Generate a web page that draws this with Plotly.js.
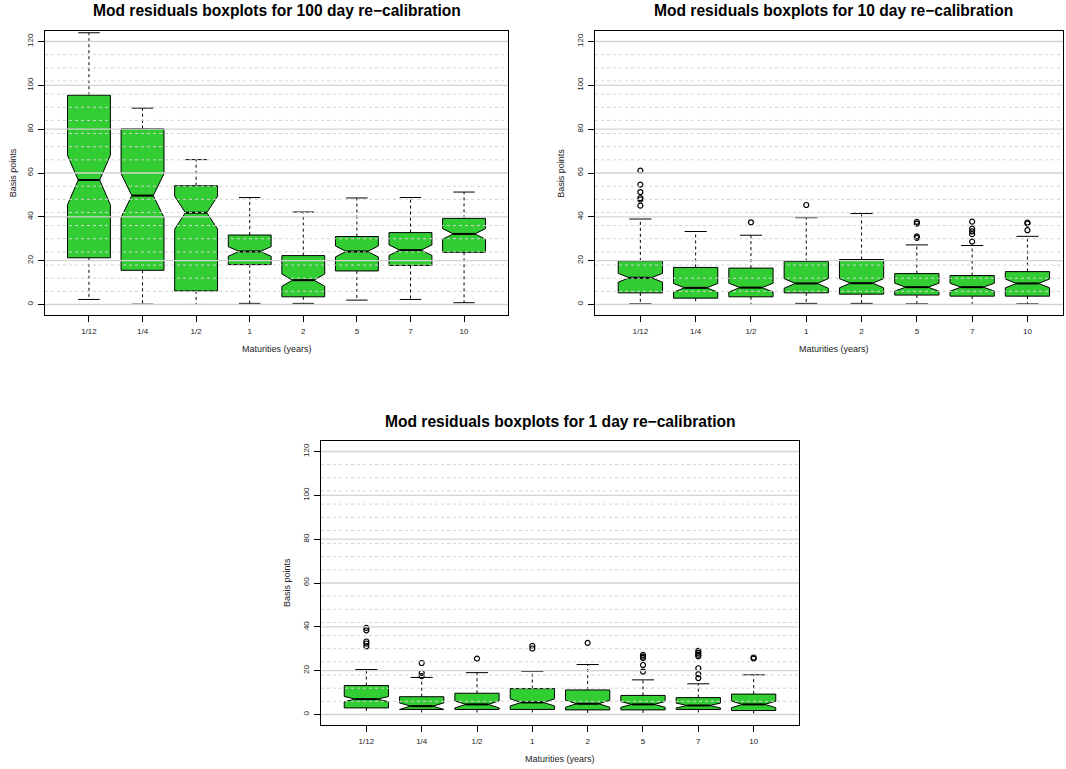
<!DOCTYPE html>
<html>
<head>
<meta charset="utf-8">
<script src="https://cdn.plot.ly/plotly-3.0.1.min.js"></script>
<style>
html,body{margin:0;padding:0;background:#fff;overflow:hidden;}
#chart{width:1066px;height:769px;}
</style>
</head>
<body>
<div id="chart"></div>
<script>
// ---------------- data ----------------
const maturities = ["1/12", "1/4", "1/2", "1", "2", "5", "7", "10"];

// 100 day re-calibration
const p100_lower  = [2.3, 0.15, 0.0, 0.5, 0.5, 2.0, 2.3, 0.8];
const p100_q1     = [21.3, 15.6, 6.2, 18.2, 3.5, 15.3, 17.8, 23.8];
const p100_median = [56.8, 49.7, 41.9, 24.2, 11.1, 24.2, 24.8, 32.2];
const p100_q3     = [95.5, 80.2, 54.2, 31.7, 22.3, 31.0, 32.8, 39.3];
const p100_upper  = [124.0, 89.6, 66.1, 48.8, 42.2, 48.6, 48.8, 51.3];
const p100_notch  = [11.3, 10.0, 7.5, 2.2, 2.8, 2.5, 2.4, 2.4];
const p100_outCat = [];
const p100_outVal = [];

// 10 day re-calibration
const p10_lower  = [0.3, 0.0, 0.0, 0.5, 0.5, 0.3, 0.0, 0.3];
const p10_q1     = [5.3, 2.9, 3.5, 5.3, 4.7, 4.3, 3.8, 3.8];
const p10_median = [12.2, 7.6, 7.7, 9.6, 9.7, 7.9, 7.9, 9.6];
const p10_q3     = [19.9, 16.9, 16.6, 19.6, 20.5, 14.1, 13.2, 15.0];
const p10_upper  = [39.0, 33.3, 31.6, 39.6, 41.5, 27.2, 26.9, 31.1];
const p10_notch  = [2.0, 2.0, 2.0, 2.2, 2.1, 1.8, 1.8, 2.0];
const p10_outCat = ["1/12","1/12","1/12","1/12","1/12","1/12","1/2","1","5","5","5","5","7","7","7","7","7","10","10","10"];
const p10_outVal = [61.1, 54.7, 51.3, 48.6, 47.9, 45.1, 37.5, 45.4, 37.7, 36.9, 31.1, 30.4, 37.8, 34.6, 33.4, 32.1, 28.7, 37.4, 36.9, 33.9];

// 1 day re-calibration
const p1_lower  = [0.0, 0.0, 0.0, 0.0, 0.0, 0.0, 0.0, 0.0];
const p1_q1     = [3.0, 2.3, 2.3, 2.3, 2.1, 2.1, 2.3, 1.8];
const p1_median = [7.0, 3.8, 4.6, 5.5, 4.9, 4.6, 4.1, 4.6];
const p1_q3     = [13.2, 8.1, 9.7, 11.8, 11.2, 8.7, 7.7, 9.3];
const p1_upper  = [20.5, 16.9, 19.1, 19.7, 22.8, 15.8, 14.0, 18.1];
const p1_notch  = [1.2, 1.5, 1.6, 1.6, 1.6, 1.3, 1.1, 1.5];
const p1_outCat = ["1/12","1/12","1/12","1/12","1/12","1/4","1/4","1/4","1/2","1","1","2","5","5","5","5","5","7","7","7","7","7","7","7","10","10"];
const p1_outVal = [39.5, 38.4, 33.3, 32.4, 31.1, 23.5, 19.0, 17.5, 25.5, 31.3, 30.1, 32.7, 27.2, 26.4, 25.8, 22.6, 19.6, 29.0, 28.1, 27.3, 26.6, 21.1, 18.4, 16.6, 26.0, 25.5];

const yTicks = [0, 20, 40, 60, 80, 100, 120];
const titles = [
  "Mod residuals boxplots for 100 day re\u2212calibration",
  "Mod residuals boxplots for 10 day re\u2212calibration",
  "Mod residuals boxplots for 1 day re\u2212calibration"
];

// ---------------- build ----------------
const W = 1066, H = 769;
const FONT = "Liberation Sans, Arial, Helvetica, sans-serif";
const GREEN = "#32CD32";
const GRID = "#d3d3d3";
const BOXW = 0.8, CAPHALF = 0.2, MEDHALF = 0.2;
const pos = maturities.map((m, i) => i + 1);

const panels = [
  {lo:p100_lower,q1:p100_q1,me:p100_median,q3:p100_q3,hi:p100_upper,nt:p100_notch,oc:p100_outCat,ov:p100_outVal,
   px:[45,508], py:[31,315], xr:[0.18,8.82], title:titles[0], tx:276.5, ty:11, xt:348.5, xc:276.5, yx:13.3},
  {lo:p10_lower,q1:p10_q1,me:p10_median,q3:p10_q3,hi:p10_upper,nt:p10_notch,oc:p10_outCat,ov:p10_outVal,
   px:[595,1063], py:[31,315], xr:[0.18,0.18+(1063-595)/55.3], title:titles[1], tx:833.5, ty:11, xt:348.5, xc:833.5, yx:560.7},
  {lo:p1_lower,q1:p1_q1,me:p1_median,q3:p1_q3,hi:p1_upper,nt:p1_notch,oc:p1_outCat,ov:p1_outVal,
   px:[321,799], py:[441,725], xr:[0.18,8.82], title:titles[2], tx:560, ty:421, xt:758.5, xc:560, yx:287}
];

const traces = [];
const layout = {
  width: W, height: H,
  margin: {l:0, r:0, t:0, b:0},
  paper_bgcolor: "#fff", plot_bgcolor: "#fff",
  showlegend: false,
  font: {family: FONT, color: "#000"},
  shapes: [], annotations: []
};

panels.forEach((p, k) => {
  const sfx = k === 0 ? "" : String(k + 1);
  const xa = "x" + sfx, ya = "y" + sfx;

  // boxes (notched), whiskers drawn separately (dashed)
  traces.push({
    type: "box", xaxis: xa, yaxis: ya,
    x: pos, q1: p.q1, median: p.me, q3: p.q3,
    lowerfence: p.q1, upperfence: p.q3,
    notched: true, notchspan: p.nt, notchwidth: 0.25,
    width: BOXW, whiskerwidth: 0,
    fillcolor: GREEN, line: {color: "#000", width: 1},
    boxpoints: false, hoverinfo: "skip"
  });

  const wx = [], wy = [];
  const cx = [], cy = [];
  const mx = [], my = [];
  pos.forEach((x, i) => {
    wx.push(x, x, null, x, x, null);
    wy.push(p.q3[i], p.hi[i], null, p.q1[i], p.lo[i], null);
    cx.push(x - CAPHALF, x + CAPHALF, null, x - CAPHALF, x + CAPHALF, null);
    cy.push(p.hi[i], p.hi[i], null, p.lo[i], p.lo[i], null);
    mx.push(x - MEDHALF, x + MEDHALF, null);
    my.push(p.me[i], p.me[i], null);
  });
  traces.push({type:"scatter", mode:"lines", xaxis:xa, yaxis:ya, x:wx, y:wy,
    line:{color:"#000", width:1, dash:"3px,3px"}, hoverinfo:"skip"});
  traces.push({type:"scatter", mode:"lines", xaxis:xa, yaxis:ya, x:cx, y:cy,
    line:{color:"#000", width:1}, hoverinfo:"skip"});
  traces.push({type:"scatter", mode:"lines", xaxis:xa, yaxis:ya, x:mx, y:my,
    line:{color:"#000", width:2}, hoverinfo:"skip"});

  if (p.oc.length) {
    traces.push({type:"scatter", mode:"markers", xaxis:xa, yaxis:ya,
      x: p.oc.map(c => maturities.indexOf(c) + 1), y: p.ov,
      marker:{symbol:"circle-open", size:5, color:"#000", line:{width:1.2, color:"#000"}},
      hoverinfo:"skip"});
  }

  layout["xaxis" + sfx] = {
    domain: [p.px[0] / W, p.px[1] / W], anchor: ya,
    range: p.xr, tickmode: "array", tickvals: pos, ticktext: maturities,
    ticks: "outside", ticklen: 6, tickwidth: 1, tickcolor: "#000",
    showline: true, mirror: true, linecolor: "#000", linewidth: 1,
    showgrid: false, zeroline: false,
    tickfont: {family: FONT, size: 8, color: "#222"}, ticklabelstandoff: 2
  };
  layout["yaxis" + sfx] = {
    domain: [1 - p.py[1] / H, 1 - p.py[0] / H], anchor: xa,
    range: [-4.8, 124.8], tickmode: "array", tickvals: yTicks,
    tickangle: -90,
    ticks: "outside", ticklen: 6, tickwidth: 1, tickcolor: "#000",
    showline: true, mirror: true, linecolor: "#000", linewidth: 1,
    showgrid: false, zeroline: false,
    tickfont: {family: FONT, size: 8, color: "#222"}, ticklabelstandoff: 2
  };

  // grid lines drawn on top of the boxes (as in the reference)
  for (let v = 6; v <= 120; v += 6) {
    if (v % 20 === 0) continue;
    layout.shapes.push({type:"line", layer:"above", xref: xa + " domain", yref: ya,
      x0:0, x1:1, y0:v, y1:v, line:{color:GRID, width:1, dash:"3px,3px"}});
  }
  yTicks.forEach(v => {
    layout.shapes.push({type:"line", layer:"above", xref: xa + " domain", yref: ya,
      x0:0, x1:1, y0:v, y1:v, line:{color:GRID, width:1.3}});
  });

  layout.annotations.push({xref:"paper", yref:"paper", x:p.tx / W, y:1 - p.ty / H,
    xanchor:"center", yanchor:"middle", showarrow:false,
    text:"<b>" + p.title + "</b>", font:{family:FONT, size:15.6, color:"#000"}});
  layout.annotations.push({xref:"paper", yref:"paper", x:p.xc / W, y:1 - p.xt / H,
    xanchor:"center", yanchor:"middle", showarrow:false,
    text:"Maturities (years)", font:{family:FONT, size:9, color:"#222"}});
  layout.annotations.push({xref:"paper", yref:"paper", x:p.yx / W, y:1 - (p.py[0] + p.py[1]) / 2 / H,
    xanchor:"center", yanchor:"middle", showarrow:false, textangle:-90,
    text:"Basis points", font:{family:FONT, size:9, color:"#222"}});
});

Plotly.newPlot("chart", traces, layout, {displayModeBar:false, staticPlot:true});
</script>
</body>
</html>
